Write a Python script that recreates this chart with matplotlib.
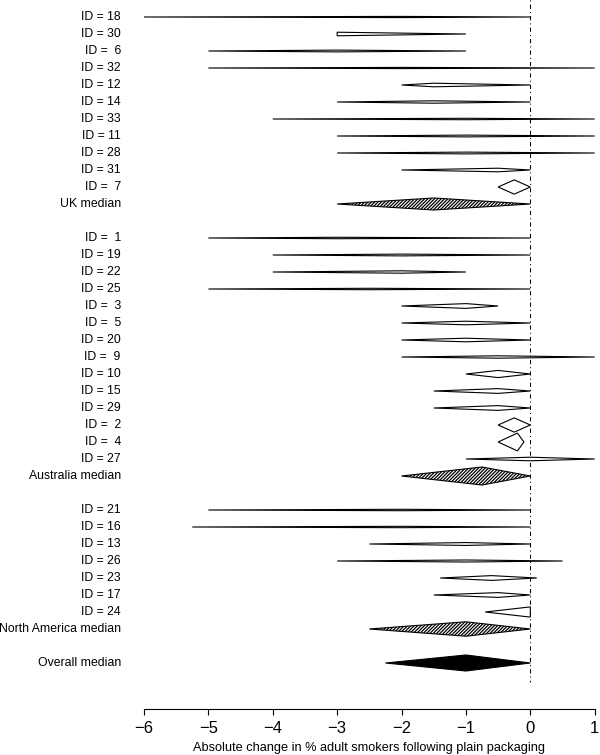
import matplotlib
matplotlib.use("Agg")
import matplotlib.pyplot as plt
from matplotlib.patches import Polygon

plt.rcParams['font.family'] = ['Liberation Sans', 'DejaVu Sans']
plt.rcParams['hatch.linewidth'] = 0.9

# ---- data -------------------------------------------------------------
labels = ["ID = 18", "ID = 30", "ID =  6", "ID = 32", "ID = 12", "ID = 14",
          "ID = 33", "ID = 11", "ID = 28", "ID = 31", "ID =  7", "UK median",
          "ID =  1", "ID = 19", "ID = 22", "ID = 25", "ID =  3", "ID =  5",
          "ID = 20", "ID =  9", "ID = 10", "ID = 15", "ID = 29", "ID =  2",
          "ID =  4", "ID = 27", "Australia median",
          "ID = 21", "ID = 16", "ID = 13", "ID = 26", "ID = 23", "ID = 17",
          "ID = 24", "North America median", "Overall median"]
rows = [1, 2, 3, 4, 5, 6, 7, 8, 9, 10, 11, 12,
        14, 15, 16, 17, 18, 19, 20, 21, 22, 23, 24, 25, 26, 27, 28,
        30, 31, 32, 33, 34, 35, 36, 37,
        39]
low = [-6, -3, -5, -5, -2, -3, -4, -3, -3, -2, -0.5, -3,
       -5, -4, -4, -5, -2, -2, -2, -2, -1, -1.5, -1.5, -0.5, -0.5, -1, -2,
       -5, -5.25, -2.5, -3, -1.4, -1.5, -0.7, -2.5,
       -2.25]
mid = [-2, -3, -3, -2, -1.5, -1.5, -1, -1, -1, -0.5, -0.25, -1.5,
       -3, -2, -2, -2.5, -1, -1, -1, -0.5, -0.5, -0.5, -0.5, -0.25, -0.2, 0, -0.75,
       -2, -2, -1, -1, -0.6, -0.5, 0, -1,
       -1]
high = [0, -1, -1, 1, 0, 0, 1, 1, 1, 0, 0, 0,
        0, 0, -1, 0, -0.5, 0, 0, 1, 0, 0, 0, 0, -0.1, 1, 0,
        0, 0, 0, 0.5, 0.1, 0, 0, 0,
        0]
kind = (["ind"] * 11 + ["region"] +
        ["ind"] * 14 + ["region"] +
        ["ind"] * 7 + ["region"] +
        ["overall"])

xticks = [-6, -5, -4, -3, -2, -1, 0, 1]
xlabel = "Absolute change in % adult smokers following plain packaging"

# diamond "area" (height x width), in row-units x data-units
IND_AREA = 0.42
MED_AREA = 2.12

# ---- figure -----------------------------------------------------------
W, H = 600, 755
fig = plt.figure(figsize=(W / 100, H / 100), dpi=100)
x_left_px, x_right_px = 144, 594.7
bottom_px = 709
ax = fig.add_axes([x_left_px / W, (H - bottom_px) / H,
                   (x_right_px - x_left_px) / W, bottom_px / H])
ax.set_xlim(-6, 1)
ax.set_ylim(bottom_px / 17.0, 0)

for lab, r, lo, md, hi, k in zip(labels, rows, low, mid, high, kind):
    area = IND_AREA if k == "ind" else MED_AREA
    h = area / (hi - lo) / 2.0
    verts = [(lo, r), (md, r - h), (hi, r), (md, r + h)]
    if k == "ind":
        p = Polygon(verts, closed=True, facecolor="white", edgecolor="black",
                    linewidth=0.8, clip_on=False, zorder=3)
    elif k == "region":
        p = Polygon(verts, closed=True, facecolor="white", edgecolor="black",
                    hatch="/" * 10, linewidth=0.8, clip_on=False, zorder=3)
    else:
        p = Polygon(verts, closed=True, facecolor="black", edgecolor="black",
                    linewidth=0.8, clip_on=False, zorder=3)
    ax.add_patch(p)
    ax.text(-6.36, r, lab, ha="right", va="center", fontsize=8.8,
            clip_on=False)

# reference line at zero
ax.plot([0, 0], [0, 40.1], color="black", linewidth=0.75,
        linestyle=(0, (1, 3, 4, 3)), clip_on=False, zorder=2)

for s in ["top", "left", "right"]:
    ax.spines[s].set_visible(False)
ax.spines["bottom"].set_linewidth(0.8)
ax.set_yticks([])
ax.set_xticks(xticks)
ax.set_xticklabels([("\u2212%d" % -t) if t < 0 else "%d" % t for t in xticks])
ax.tick_params(axis="x", length=4.3, width=0.8, pad=4.5, labelsize=12)

fig.text(369 / W, 1 - 748 / H, xlabel, ha="center", va="center", fontsize=9.2)

fig.savefig("out.png", dpi=100)
